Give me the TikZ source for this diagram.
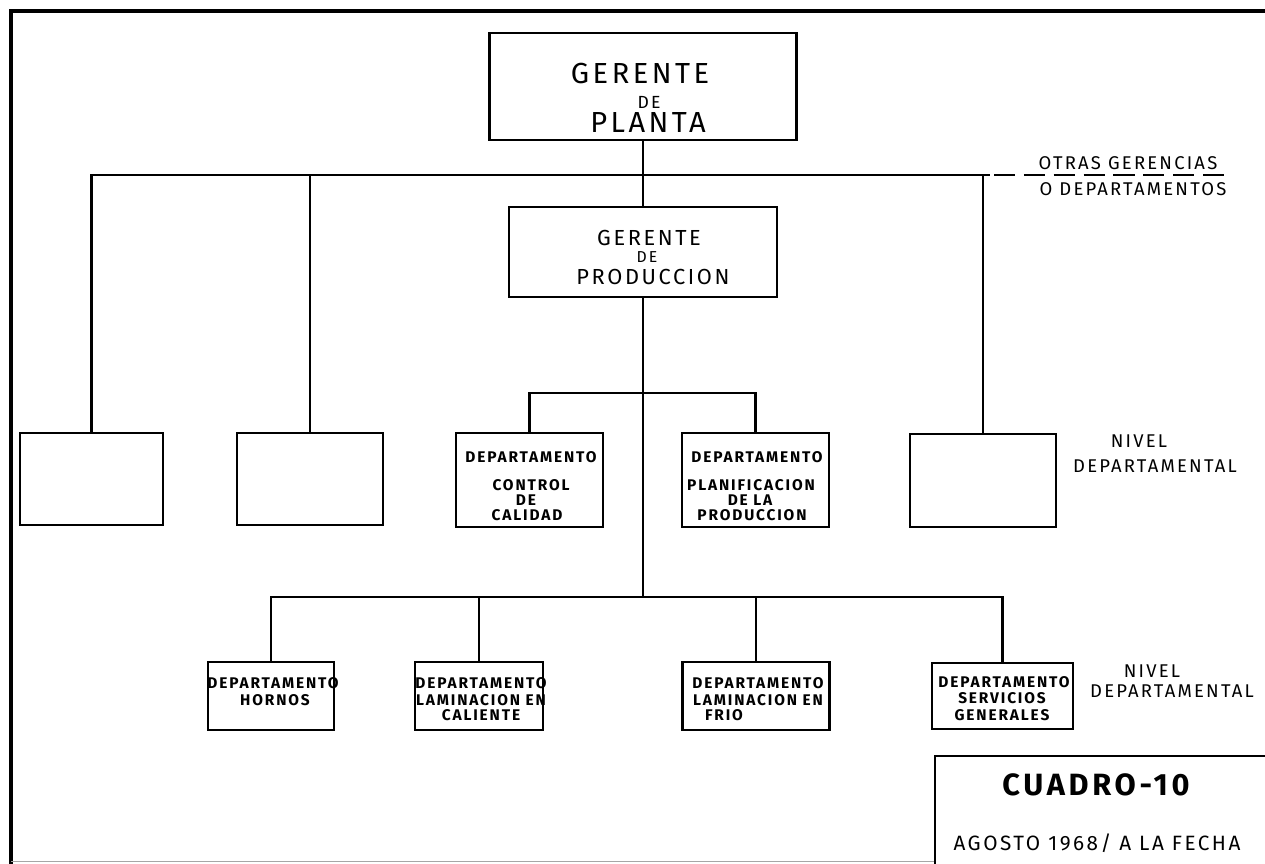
\documentclass[tikz,border=0pt]{standalone}
\usepackage{fontspec}
\newfontfamily\hand[LetterSpace=12]{Fira Sans}
\begin{document}
\begin{tikzpicture}[x=0.02cm, y=-0.02cm,
  frame/.style={line width=1.8pt, line cap=rect},
  box/.style 2 args={draw, line width=1.6pt, inner sep=0pt,
    minimum width=#1*0.02cm, minimum height=#2*0.02cm},
  wire/.style={line width=1.3pt},
  txt/.style={anchor=base, inner sep=0pt, font=\hand},
  big/.style={txt, font=\hand\fontsize{16.5}{18}\selectfont},
  mid/.style={txt, font=\hand\fontsize{12.4}{14}\selectfont},
  small/.style={txt, font=\hand\fontsize{#1}{#1}\selectfont},
  dept/.style={txt, font=\hand\bfseries\fontsize{8.8}{9}\selectfont},
  side/.style={txt, font=\hand\fontsize{10.5}{11}\selectfont}]
\useasboundingbox (0,0) rectangle (1265,863);

% sheet border
\draw[frame] (1275,11) -- (11,11) -- (11,870);
\draw[line width=0.5pt, black!35] (11,861) -- (935,861);

% boxes
\node[box={307}{107}] (gp)    at (643,86.5) {};
\node[box={268}{90}]  (gprod) at (643,252) {};
\node[box={143}{92}]  (b1)    at (91.5,479) {};
\node[box={146}{92}]  (b2)    at (310,479) {};
\node[box={147}{94}]  (cc)    at (529.5,480) {};
\node[box={147}{94}]  (pp)    at (755.5,480) {};
\node[box={146}{93}]  (b5)    at (983,480.5) {};
\node[box={126}{68}]  (hornos) at (271,696) {};
\node[box={128}{68}]  (cal)   at (479,696) {};
\node[box={147}{68}]  (frio)  at (756,696) {};
\node[box={141}{66}]  (sg)    at (1002.5,696) {};
\node[box={365}{144}] (cuadro) at (1117.5,828) {};

% bus points
\coordinate (bus1)  at (643,175);
\coordinate (bus1r) at (990,175);
\coordinate (bus1e) at (1230,175);
\coordinate (bus2)  at (643,393);
\coordinate (bus3)  at (643,597);

% connectors
\draw[wire] (gp.south) -- (gprod.north);
\draw[wire] (b1.north) |- (bus1r);
\draw[wire] (b2.north) -- (b2.north |- bus1);
\draw[wire] (b5.north) -- (b5.north |- bus1);
\draw[wire, dash pattern=on 12pt off 5pt] (bus1r) ++(4,0) -- (bus1e);
\draw[wire] (gprod.south) -- (bus3);
\draw[wire] (cc.north) |- (bus2) -| (pp.north);
\draw[wire] (hornos.north) |- (bus3) -| (sg.north);
\draw[wire] (cal.north) -- (cal.north |- bus3);
\draw[wire] (frio.north) -- (frio.north |- bus3);

% texts
\node[big] (gp1) at (640,83) {GERENTE};
\node[small=10] (gp2) at (649,108) {DE};
\node[big] (gp3) at (648,132) {PLANTA};

\node[mid] (pr1) at (649,245) {GERENTE};
\node[small=9] (pr2) at (647,262) {DE};
\node[mid] (pr3) at (653,284) {PRODUCCION};

\node[side] (ot1) at (1128,169) {OTRAS GERENCIAS};
\node[side] (ot2) at (1133,195) {O DEPARTAMENTOS};

\node[dept] (cc1) at (531,462) {DEPARTAMENTO};
\node[dept] (cc2) at (531,490) {CONTROL};
\node[dept] (cc3) at (526,505) {DE};
\node[dept] (cc4) at (527,520) {CALIDAD};

\node[dept] (pp1) at (757,462) {DEPARTAMENTO};
\node[dept] (pp2) at (751,490) {PLANIFICACION};
\node[dept] (pp3) at (750,505) {DE LA};
\node[dept] (pp4) at (752,520) {PRODUCCION};

\node[side] (nv1) at (1139,447) {NIVEL};
\node[side] (nv2) at (1155,472) {DEPARTAMENTAL};

\node[dept] (ho1) at (273,688) {DEPARTAMENTO};
\node[dept] (ho2) at (275,705) {HORNOS};

\node[dept] (ca1) at (481,688) {DEPARTAMENTO};
\node[dept] (ca2) at (481,705) {LAMINACION EN};
\node[dept] (ca3) at (481,720) {CALIENTE};

\node[dept] (fr1) at (758,688) {DEPARTAMENTO};
\node[dept] (fr2) at (758,705) {LAMINACION EN};
\node[dept] (fr3) at (724,720) {FRIO};

\node[dept] (sg1) at (1004,687) {DEPARTAMENTO};
\node[dept] (sg2) at (1002,703) {SERVICIOS};
\node[dept] (sg3) at (1002,720) {GENERALES};

\node[side] (nw1) at (1152,677) {NIVEL};
\node[side] (nw2) at (1172,697) {DEPARTAMENTAL};

\node[txt, font=\hand\bfseries\fontsize{17.5}{19}\selectfont] (cu1) at (1096,795) {CUADRO-10};
\node[txt, font=\hand\fontsize{11.8}{13}\selectfont] (cu2) at (1097,850) {AGOSTO 1968/ A LA FECHA};
\end{tikzpicture}
\end{document}
